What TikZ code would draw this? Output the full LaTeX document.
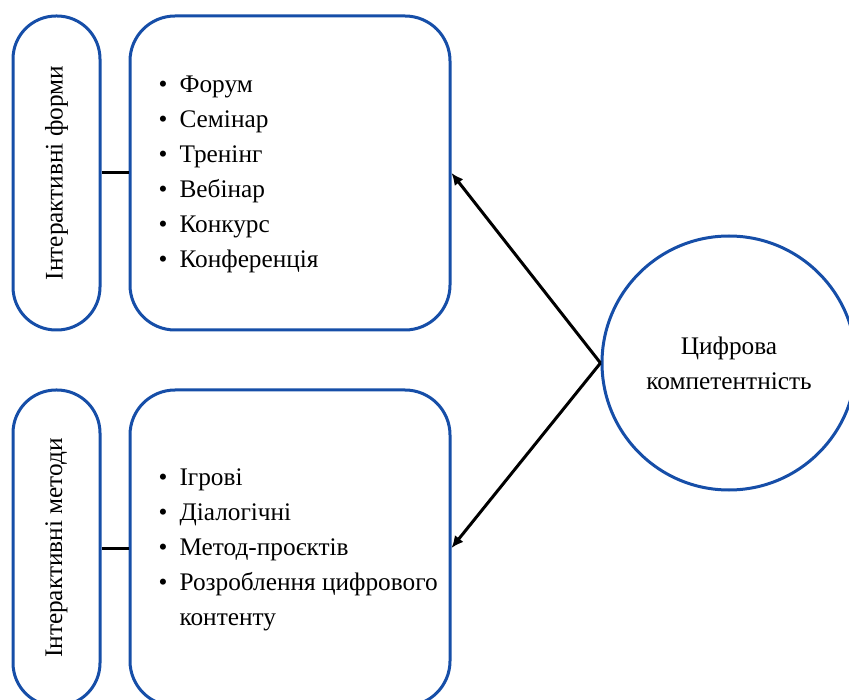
\documentclass[tikz,border=0pt]{standalone}
\usepackage{fontspec}
\setmainfont{Liberation Serif}
\usetikzlibrary{positioning}
\usetikzlibrary{arrows.meta}
\definecolor{fblue}{RGB}{22,78,168}

\begin{document}
\begin{tikzpicture}[x=1pt,y=-1pt,
  pill/.style={draw=fblue, line width=3pt, rounded corners=43pt, minimum width=87pt, minimum height=314pt, inner sep=0pt},
  bigbox/.style={draw=fblue, line width=3pt, rounded corners=45pt, minimum width=320pt, minimum height=314pt, inner sep=0pt},
  ring/.style={draw=fblue, line width=3pt, circle, minimum size=254pt, inner sep=0pt},
  vlabel/.style={rotate=90, font=\fontsize{25.3}{35}\selectfont, inner sep=0pt},
  listtext/.style={anchor=west, font=\fontsize{25.3}{35}\selectfont, align=left, inner sep=0pt},
  link/.style={black, line width=3pt},
  arr/.style={black, line width=3pt, -{Latex[length=12pt,width=11pt]}}]

\useasboundingbox (0,0) rectangle (849,700);

% top row
\node[pill] (fp) at (56.5,173) {};
\node[vlabel] (fpl) at (fp.center) {Інтерактивні форми};
\node[bigbox] (fb) at (290,173) {};
\node[listtext] (fl) at ([xshift=30pt]fb.west) {%
\begin{tabular}{@{}l@{\hspace{12pt}}l@{}}
\textbullet & Форум\\
\textbullet & Семінар\\
\textbullet & Тренінг\\
\textbullet & Вебінар\\
\textbullet & Конкурс\\
\textbullet & Конференція
\end{tabular}};

% bottom row
\node[pill] (mp) at (56.5,548) [minimum height=316pt] {};
\node[vlabel] (mpl) at (mp.center) {Інтерактивні методи};
\node[bigbox] (mb) at (290,548) [minimum height=316pt] {};
\node[listtext] (ml) at ([xshift=30pt]mb.west) {%
\begin{tabular}{@{}l@{\hspace{12pt}}l@{}}
\textbullet & Ігрові\\
\textbullet & Діалогічні\\
\textbullet & Метод-проєктів\\
\textbullet & Розроблення цифрового\\
 & контенту
\end{tabular}};

% circle
\node[ring, align=center, font=\fontsize{25.3}{35}\selectfont] (dc) at (729,363) {Цифрова\\компетентність};

% connectors
\draw[link] (fp.east) -- (fb.west);
\draw[link] (mp.east) -- (mb.west);
\draw[arr] (dc.west) -- (fb.east);
\draw[arr] (dc.west) -- (mb.east);

\end{tikzpicture}
\end{document}
